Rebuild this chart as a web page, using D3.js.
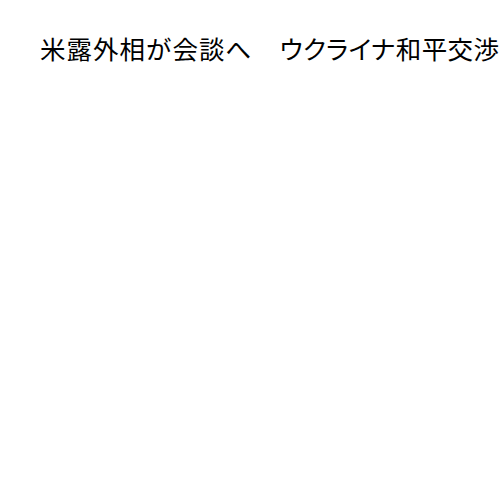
<!DOCTYPE html>
<html>
<head>
<meta charset="utf-8">
<script src="https://cdn.jsdelivr.net/npm/d3@7"></script>
<style>
  body { margin: 0; background: #fff; }
  .kana { font-feature-settings: "palt" 1; }
</style>
</head>
<body>
<svg id="chart"></svg>
<script>
// title only, the chart area is empty
const titleParts = ['米露外相が会談へ', '　', 'ウクライナ和平交渉'];

const width = 500;
const height = 500;

const svg = d3.select('#chart')
  .attr('width', width)
  .attr('height', height);

svg.append('rect')
  .attr('width', width)
  .attr('height', height)
  .attr('fill', '#fff');

const title = svg.append('text')
  .attr('x', 40)
  .attr('y', 59)
  .attr('font-family', '"Noto Sans CJK JP", serif')
  .attr('font-size', 25.5)
  .attr('fill', '#000');

title.append('tspan')
  .attr('letter-spacing', 1)
  .text(titleParts[0] + titleParts[1]);
title.append('tspan')
  .attr('class', 'kana')
  .attr('letter-spacing', 0.4)
  .attr('dx', 1)
  .text(titleParts[2]);
</script>
</body>
</html>
